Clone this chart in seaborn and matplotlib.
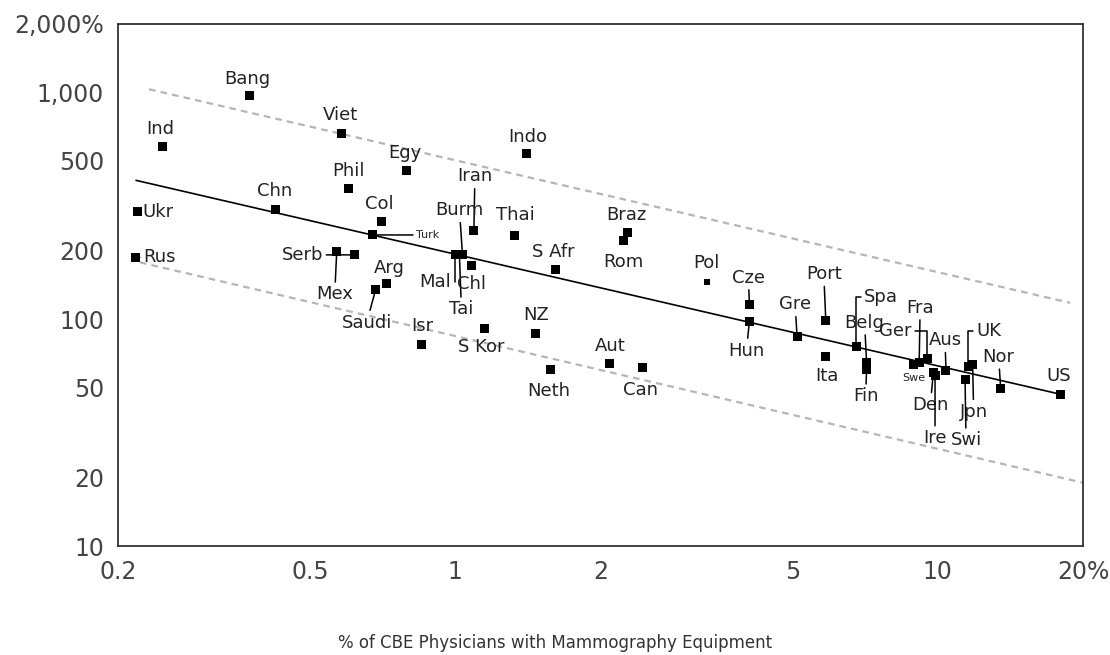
import pandas as pd
import matplotlib
matplotlib.use('Agg')
import matplotlib.pyplot as plt
import seaborn as sns

# Values (log-log axes)
countries = ['Bang', 'Ind', 'Viet', 'Phil', 'Chn', 'Col', 'Turk', 'Ukr', 'Rus', 'Mex',
             'Serb', 'Arg', 'Saudi', 'Egy', 'Indo', 'Iran', 'Thai', 'Braz', 'Rom', 'S Afr',
             'Burm', 'Mal', 'Tai', 'Chl', 'NZ', 'S Kor', 'Isr', 'Aut', 'Can', 'Neth',
             'Pol', 'Cze', 'Hun', 'Gre', 'Port', 'Ita', 'Spa', 'Belg', 'Fin', 'Swe',
             'Fra', 'Ger', 'Den', 'Ire', 'Aus', 'Swi', 'UK', 'Jpn', 'Nor', 'US']
pct_equipped = [0.374, 0.247, 0.581, 0.602, 0.425, 0.704, 0.673, 0.219, 0.217, 0.568,
                0.617, 0.721, 0.684, 0.791, 1.406, 1.093, 1.326, 2.27, 2.23, 1.615,
                1.035, 1.0, 1.02, 1.08, 1.47, 1.149, 0.852, 2.083, 2.446, 1.574,
                3.32, 4.07, 4.07, 5.11, 5.86, 5.86, 6.77, 7.12, 7.12, 8.9,
                9.15, 9.52, 9.79, 9.87, 10.4, 11.39, 11.57, 11.81, 13.5, 18.0]
values = [965, 575, 655, 376, 303, 270, 235, 298, 187, 199,
          192, 143, 135, 453, 537, 246, 234, 240, 222, 165,
          193, 193, 193, 172, 86.4, 91.2, 77, 64, 61.5, 60,
          146, 116, 97.6, 84, 99, 68.5, 76, 64.3, 60.1, 63,
          64.3, 67.2, 58, 56.7, 59.5, 54.3, 62.1, 63, 49.3, 46.6]

# Fitted line and band ends
fit_x = [0.218, 18.0]
fit_y = [409, 46.6]
upper_x = [0.232, 18.8]
upper_y = [1031, 118]
lower_x = [0.222, 20.0]
lower_y = [178, 19]

x_ticks = [0.2, 0.5, 1, 2, 5, 10, 20]
x_tick_labels = ['0.2', '0.5', '1', '2', '5', '10', '20%']
y_ticks = [10, 20, 50, 100, 200, 500, 1000, 2000]
y_tick_labels = ['10', '20', '50', '100', '200', '500', '1,000', '2,000%']

# label placement: dx, dy (pixels), ha, leader type
label_pos = {
    'Bang': (-2, 17, 'center', None), 'Ind': (-2, 18, 'center', None),
    'Viet': (-1, 19, 'center', None), 'Phil': (0, 18, 'center', None),
    'Chn': (-1, 19, 'center', None), 'Col': (-2, 17, 'center', None),
    'Turk': (44, 0, 'left', 'line'), 'Ukr': (5, 0, 'left', None),
    'Rus': (8, 0, 'left', 'line'), 'Mex': (-2, -43, 'center', 'line'),
    'Serb': (-31, 0, 'right', 'line'), 'Arg': (3, 16, 'center', None),
    'Saudi': (-9, -33, 'center', 'line'), 'Egy': (-1, 17, 'center', None),
    'Indo': (1, 17, 'center', None), 'Iran': (1, 54, 'center', 'line'),
    'Thai': (1, 20, 'center', None), 'Braz': (-1, 18, 'center', None),
    'Rom': (0, -21, 'center', None), 'S Afr': (-2, 18, 'center', None),
    'Burm': (-3, 44, 'center', 'line'), 'Mal': (-4, -28, 'right', 'angle'),
    'Tai': (2, -55, 'center', 'line'), 'Chl': (0, -18, 'center', None),
    'NZ': (0, 19, 'center', None), 'S Kor': (-3, -19, 'center', None),
    'Isr': (1, 19, 'center', None), 'Aut': (1, 17, 'center', None),
    'Can': (-2, -23, 'center', None), 'Neth': (-2, -22, 'center', None),
    'Pol': (0, 19, 'center', None), 'Cze': (-1, 27, 'center', 'line'),
    'Hun': (-3, -29, 'center', 'line'), 'Gre': (-2, 32, 'center', 'line'),
    'Port': (-2, 46, 'center', 'line'), 'Ita': (1, -20, 'center', None),
    'Spa': (8, 49, 'left', 'angle'), 'Belg': (-2, 40, 'center', 'line'),
    'Fin': (-1, -27, 'center', 'line'), 'Swe': (0, -13, 'center', None),
    'Fra': (1, 55, 'center', 'line'), 'Ger': (-16, 27, 'right', 'angle'),
    'Den': (-3, -32, 'center', 'line'), 'Ire': (0, -63, 'center', 'line'),
    'Aus': (-1, 30, 'center', 'line'), 'Swi': (1, -61, 'center', 'line'),
    'UK': (8, 35, 'left', 'angle'), 'Jpn': (1, -47, 'center', 'line'),
    'Nor': (-2, 32, 'center', 'line'), 'US': (-2, 18, 'center', None),
}
small_labels = ['Turk', 'Swe']

df = pd.DataFrame({'country': countries, 'pct': pct_equipped, 'val': values})

sns.set_style('white')
plt.rcParams['font.family'] = ['DejaVu Sans']

fig = plt.figure(figsize=(11.1, 6.55), dpi=100)
ax = fig.add_axes([0.1063, 0.1664, 0.8694, 0.797])
ax.set_xscale('log')
ax.set_yscale('log')

# Fit line and dashed band
sns.lineplot(x=fit_x, y=fit_y, color='black', lw=1.2, ax=ax)
sns.lineplot(x=upper_x, y=upper_y, color='#b5b5b5', lw=1.6, linestyle=(0, (3, 2.3)), ax=ax)
sns.lineplot(x=lower_x, y=lower_y, color='#b5b5b5', lw=1.6, linestyle=(0, (3, 2.3)), ax=ax)

big = df[df['country'] != 'Pol']
sns.scatterplot(data=big, x='pct', y='val', marker='s', color='black', s=42,
                edgecolor='none', legend=False, ax=ax, zorder=3)
sns.scatterplot(data=df[df['country'] == 'Pol'], x='pct', y='val', marker='s',
                color='black', s=18, edgecolor='none', legend=False, ax=ax, zorder=3)

for name, x, y in zip(countries, pct_equipped, values):
    dx, dy, ha, leader = label_pos[name]
    fs = 8 if name in small_labels else 13
    arrow = None
    if leader == 'line':
        arrow = dict(arrowstyle='-', color='black', lw=1.1, shrinkA=0, shrinkB=0)
    elif leader == 'angle':
        arrow = dict(arrowstyle='-', color='black', lw=1.1, shrinkA=0, shrinkB=0,
                     connectionstyle='angle,angleA=0,angleB=90,rad=0')
    ax.annotate(name, xy=(x, y), xytext=(dx, dy), textcoords='offset pixels',
                ha=ha, va='center', fontsize=fs, color='#222222',
                arrowprops=arrow, zorder=4)

ax.set_xlim(0.2, 20)
ax.set_ylim(10, 2000)
ax.set_xticks(x_ticks)
ax.set_xticklabels(x_tick_labels)
ax.set_yticks(y_ticks)
ax.set_yticklabels(y_tick_labels)
ax.minorticks_off()
ax.set_xlabel('')
ax.set_ylabel('')
ax.tick_params(direction='out', length=7, width=1.2, color='#333333',
               labelsize=17, labelcolor='#444444', pad=3)
for sp in ax.spines.values():
    sp.set_visible(True)
    sp.set_color('#333333')
    sp.set_linewidth(1.3)

fig.text(0.5, 0.018, '% of CBE Physicians with Mammography Equipment',
         ha='center', va='center', fontsize=12, color='#333333')

fig.savefig('out.png', dpi=100)
